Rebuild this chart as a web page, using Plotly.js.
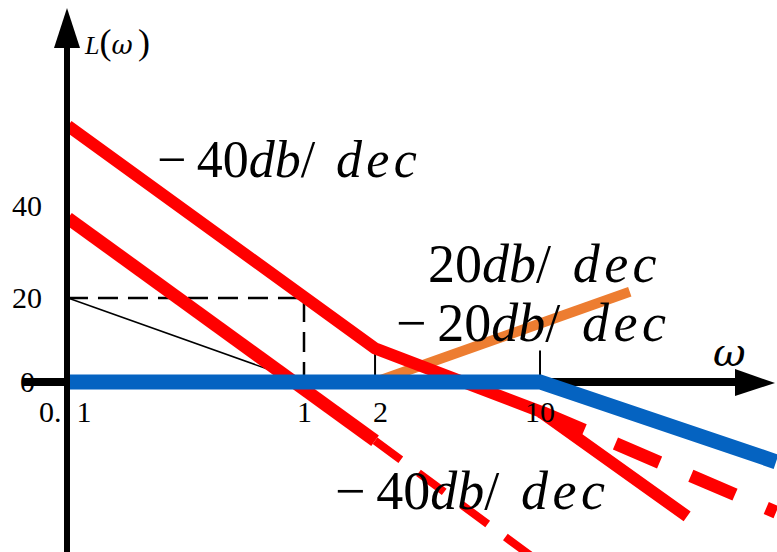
<!DOCTYPE html>
<html>
<head>
<meta charset="utf-8">
<script src="https://cdn.plot.ly/plotly-3.0.1.min.js"></script>
<style>
  html, body { margin: 0; padding: 0; background: #fff; }
  #chart { width: 777px; height: 552px; }
</style>
</head>
<body>
<div id="chart"></div>
<script>
// Asymptotic Bode magnitude sketch, L(ω) in dB against log ω.

// axis ticks
const omegaTicks = [0.1, 1, 2, 10];
const omegaTickText = ['0.\u00a0\u00a01', '1', '2', '10'];
const dbTicks = [0, 20, 40];
const dbTickText = ['0', '20', '40'];

// upper red asymptote: -40 then -20 then -40 dB/dec
const upperW = [0.1, 2, 10, 42];
const upperDb = [61, 8, -7, -32];
// its -20 dB/dec continuation past ω = 10 (dashed)
const upperDashW = [10, 100];
const upperDashDb = [-7, -31];

// lower red asymptote: -40 dB/dec, solid to ω = 2 then dashed
const lowerW = [0.1, 2];
const lowerDb = [39, -14];
const lowerDashW = [2, 10];
const lowerDashDb = [-14, -43];

// orange +20 dB/dec from ω = 2
const orangeW = [2, 24];
const orangeDb = [0, 21.5];

// blue: flat to ω = 10 then -20 dB/dec
const blueW = [0.1, 10, 100];
const blueDb = [0, 0, -19];

// thin construction line: 20 dB at 0.1 down to 0 dB at 1
const thinW = [0.1, 1];
const thinDb = [20, 0];

// dashed guide at 20 dB to ω = 1
const guideW = [0.1, 1, 1];
const guideDb = [20, 20, 0];

// short corner marks at ω = 2 and ω = 10
const markHeightDb = 7.5;

const W = 777, H = 552;
const px = x => x / W;
const py = y => 1 - y / H;

const RED = '#ff0000', BLUE = '#0563c1', ORANGE = '#ed7d31';
const SERIF = 'Liberation Serif';
const OMEGA = '<i><span style="font-family:\'DejaVu Serif\'">ω</span></i>';

function line(xs, ys, color, width, dash) {
  return {
    x: xs, y: ys, type: 'scatter', mode: 'lines', hoverinfo: 'skip',
    line: { color: color, width: width, dash: dash || 'solid' },
    showlegend: false
  };
}

const traces = [
  line(thinW, thinDb, '#000', 1.5),
  line(guideW, guideDb, '#000', 2.5, '20px,10px'),
  line([2, 2], [0, markHeightDb], '#000', 2),
  line([10, 10], [0, markHeightDb], '#000', 2),
  line(orangeW, orangeDb, ORANGE, 10),
  line(lowerDashW, lowerDashDb, RED, 8, '32px,22px'),
  line(lowerW, lowerDb, RED, 13),
  line(upperDashW, upperDashDb, RED, 13, '48px,34px'),
  line(upperW, upperDb, RED, 12),
  line(blueW, blueDb, BLUE, 15)
];

const shapes = [
  // ω axis
  { type: 'line', xref: 'paper', yref: 'paper', layer: 'below',
    x0: px(23), x1: px(742), y0: py(382), y1: py(382),
    line: { color: '#000', width: 8 } },
  { type: 'path', xref: 'paper', yref: 'paper', layer: 'above',
    path: `M ${px(735)} ${py(369)} L ${px(775)} ${py(383)} L ${px(735)} ${py(396)} Z`,
    fillcolor: '#000', line: { color: '#000', width: 0 } },
  // L(ω) axis
  { type: 'line', xref: 'paper', yref: 'paper', layer: 'above',
    x0: px(67), x1: px(67), y0: py(552), y1: py(42),
    line: { color: '#000', width: 6 } },
  { type: 'path', xref: 'paper', yref: 'paper', layer: 'above',
    path: `M ${px(54)} ${py(48)} L ${px(67)} ${py(8)} L ${px(80)} ${py(48)} Z`,
    fillcolor: '#000', line: { color: '#000', width: 0 } }
];

const annotations = [];
omegaTicks.forEach((w, i) => annotations.push({
  xref: 'x', yref: 'paper', x: Math.log10(w), y: py(411),
  text: omegaTickText[i], showarrow: false, xanchor: 'center', yanchor: 'middle',
  xshift: i === 0 ? -2 : (i === 2 ? 5 : 0),
  font: { family: SERIF, size: 30, color: '#000' }
}));
dbTicks.forEach((d, i) => annotations.push({
  xref: 'paper', yref: 'y', x: px(27), y: d,
  text: dbTickText[i], showarrow: false, xanchor: 'center', yanchor: 'middle',
  yshift: i === 2 ? 8 : 0,
  font: { family: SERIF, size: 30, color: '#000' }
}));

function slopeLabel(text, cx, cy, size) {
  return {
    xref: 'paper', yref: 'paper', x: px(cx), y: py(cy), text: text,
    showarrow: false, xanchor: 'center', yanchor: 'middle',
    font: { family: SERIF, size: size, color: '#000' }
  };
}
const T = '\u2009', HS = '\u200a';
annotations.push(
  slopeLabel('\u2212' + T + '40<i>db</i>/' + T + T + '<i>d' + HS + 'e' + HS + 'c</i>', 287, 160, 52),
  slopeLabel('20<i>db</i>/' + T + T + '<i>d' + HS + 'e' + HS + 'c</i>', 542, 264, 54),
  slopeLabel('\u2212' + T + '20<i>db</i>/' + T + T + '<i>d' + HS + 'e' + HS + 'c</i>', 531, 323, 54),
  slopeLabel('\u2212' + T + '40<i>db</i>/' + T + T + '<i>d' + HS + 'e' + HS + 'c</i>', 470, 491, 54),
  slopeLabel(OMEGA, 729, 352, 40),
  slopeLabel('<i>L</i><span style="font-size:36px">(</span>' + OMEGA + T +
             '<span style="font-size:36px">)</span>', 117, 42, 26)
);

const layout = {
  width: W, height: H,
  margin: { l: 0, r: 0, t: 0, b: 0, pad: 0 },
  paper_bgcolor: '#fff', plot_bgcolor: '#fff',
  showlegend: false,
  xaxis: { type: 'log', range: [-1.288, 2.004], visible: false, fixedrange: true },
  yaxis: { range: [-40.48, 90.95], visible: false, fixedrange: true },
  shapes: shapes,
  annotations: annotations
};

Plotly.newPlot('chart', traces, layout, { staticPlot: true, displayModeBar: false });
</script>
</body>
</html>
